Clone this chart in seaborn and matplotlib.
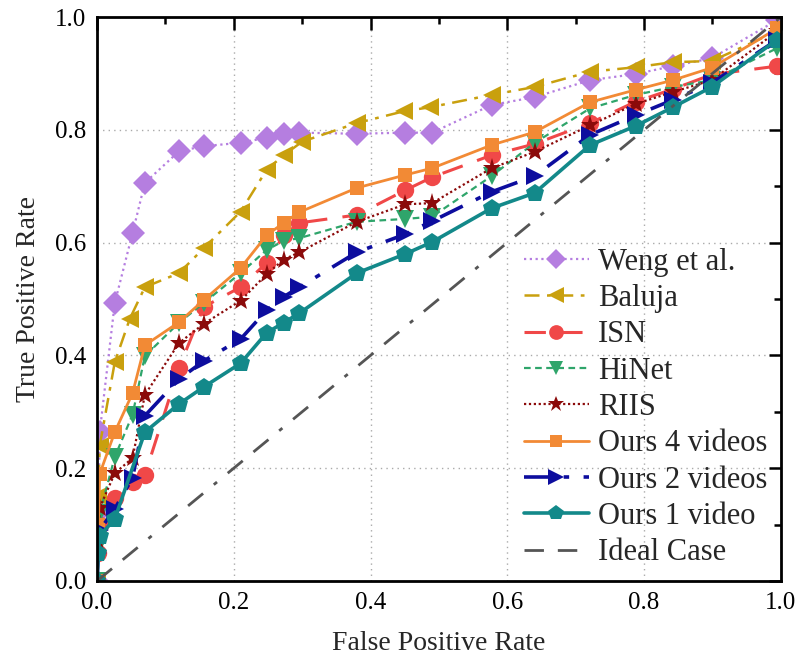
import matplotlib
matplotlib.use("Agg")
import matplotlib.pyplot as plt
from matplotlib.ticker import MultipleLocator, FixedLocator, FixedFormatter
import seaborn as sns
import pandas as pd

# ---------------- data ----------------
fpr_common = [0.026, 0.052, 0.070, 0.120, 0.156, 0.210, 0.248, 0.273, 0.296,
              0.380, 0.451, 0.490, 0.577, 0.640, 0.721, 0.788, 0.842, 0.899, 0.995]

weng_x = [0.0, 0.002, 0.004] + fpr_common
weng_y = [0.0, 0.12, 0.264, 0.493, 0.617, 0.706, 0.762, 0.771, 0.777, 0.786, 0.792, 0.795,
          0.793, 0.795, 0.795, 0.844, 0.858, 0.888, 0.899, 0.913, 0.927, 0.995]

baluja_x = [0.0, 0.002, 0.004, 0.026, 0.048, 0.070, 0.120, 0.156, 0.210, 0.248, 0.273, 0.300,
            0.380, 0.449, 0.487, 0.577, 0.640, 0.721, 0.788, 0.842, 0.899, 0.995]
baluja_y = [0.0, 0.15, 0.24, 0.388, 0.465, 0.521, 0.546, 0.590, 0.655, 0.729, 0.755, 0.779,
            0.812, 0.833, 0.840, 0.862, 0.876, 0.903, 0.911, 0.920, 0.922, 0.975]

isn_x = [0.0, 0.002, 0.004] + fpr_common
isn_y = [0.0, 0.05, 0.10, 0.147, 0.176, 0.188, 0.378, 0.486, 0.521, 0.564, 0.613, 0.635,
         0.649, 0.693, 0.716, 0.755, 0.775, 0.812, 0.850, 0.872, 0.898, 0.913]

hinet_x = [0.0, 0.002, 0.004] + fpr_common
hinet_y = [0.0, 0.06, 0.12, 0.220, 0.295, 0.399, 0.458, 0.493, 0.546, 0.587, 0.603, 0.608,
           0.637, 0.642, 0.646, 0.718, 0.777, 0.838, 0.862, 0.876, 0.888, 0.945]

riis_x = [0.0, 0.002, 0.004] + fpr_common
riis_y = [0.0, 0.07, 0.13, 0.191, 0.218, 0.330, 0.422, 0.456, 0.497, 0.544, 0.570, 0.583,
          0.637, 0.668, 0.670, 0.732, 0.761, 0.808, 0.846, 0.867, 0.888, 0.975]

ours4_x = [0.0, 0.002, 0.004] + fpr_common
ours4_y = [0.0, 0.10, 0.19, 0.264, 0.333, 0.418, 0.459, 0.498, 0.555, 0.613, 0.635, 0.654,
           0.697, 0.720, 0.732, 0.773, 0.796, 0.849, 0.871, 0.888, 0.910, 0.980]

ours2_x = [0.0, 0.002, 0.004] + fpr_common
ours2_y = [0.0, 0.05, 0.09, 0.128, 0.183, 0.293, 0.358, 0.390, 0.429, 0.480, 0.504, 0.521,
           0.583, 0.615, 0.638, 0.690, 0.718, 0.791, 0.826, 0.853, 0.883, 0.960]

ours1_x = [0.0, 0.002, 0.004, 0.026, 0.070, 0.120, 0.156, 0.210, 0.248, 0.273, 0.296,
           0.380, 0.451, 0.490, 0.577, 0.640, 0.721, 0.788, 0.842, 0.899, 0.995]
ours1_y = [0.0, 0.05, 0.08, 0.110, 0.264, 0.314, 0.344, 0.386, 0.440, 0.458, 0.475,
           0.546, 0.580, 0.601, 0.661, 0.688, 0.773, 0.807, 0.840, 0.876, 0.960]

ideal_x = [0.0, 1.0]
ideal_y = [0.0, 1.0]

names = ["Weng et al.", "Baluja", "ISN", "HiNet", "RIIS",
         "Ours 4 videos", "Ours 2 videos", "Ours 1 video", "Ideal Case"]
tick_vals = [0.0, 0.2, 0.4, 0.6, 0.8, 1.0]
tick_labels = ["0.0", "0.2", "0.4", "0.6", "0.8", "1.0"]

# ---------------- styling ----------------
sns.set_theme(style="white")
plt.rcParams['font.family'] = ['Liberation Serif', 'DejaVu Serif']

series = [
    (weng_x, weng_y, "#b57ee0", "D", (0, (1, 1.6)), 1.6, 12),
    (baluja_x, baluja_y, "#c9a00e", "<", (0, (6, 3, 1.5, 3)), 1.8, 13),
    (isn_x, isn_y, "#f04848", "o", (0, (7, 5)), 2.2, 12.5),
    (hinet_x, hinet_y, "#2fa56b", "v", (0, (3, 2)), 1.6, 12.5),
    (riis_x, riis_y, "#8b0a0a", "*", (0, (1, 1.2)), 1.6, 14),
    (ours4_x, ours4_y, "#f28a35", "s", "-", 2.0, 10.5),
    (ours2_x, ours2_y, "#0d0d9e", ">", (0, (7, 4, 1.5, 4)), 2.6, 13),
    (ours1_x, ours1_y, "#13898a", "p", "-", 2.6, 13.5),
]

fig, ax = plt.subplots(figsize=(8.05, 6.55), dpi=100)
fig.subplots_adjust(left=0.1205, right=0.970, bottom=0.113, top=0.974)

for (xs, ys, col, mk, ls, lw, ms), nm in zip(series, names[:-1]):
    df = pd.DataFrame({"x": xs, "y": ys})
    sns.lineplot(data=df, x="x", y="y", ax=ax, color=col, marker=mk,
                 linestyle=ls, linewidth=lw, markersize=ms, markeredgewidth=0,
                 estimator=None, sort=False, label=nm)

df_ideal = pd.DataFrame({"x": ideal_x, "y": ideal_y})
sns.lineplot(data=df_ideal, x="x", y="y", ax=ax, color="#555555",
             linestyle=(0, (7, 5, 7, 5, 1.5, 5)), linewidth=2.0,
             estimator=None, sort=False, label=names[-1])

ax.set_xlim(0, 1)
ax.set_ylim(0, 1)
ax.xaxis.set_major_locator(FixedLocator(tick_vals))
ax.xaxis.set_major_formatter(FixedFormatter(tick_labels))
ax.yaxis.set_major_locator(FixedLocator(tick_vals))
ax.yaxis.set_major_formatter(FixedFormatter(tick_labels))
ax.xaxis.set_minor_locator(MultipleLocator(0.1))
ax.yaxis.set_minor_locator(MultipleLocator(0.1))
ax.tick_params(which="both", direction="in", top=True, right=True,
               colors="black", labelsize=18, width=1.8)
ax.tick_params(which="major", length=9, pad=8)
ax.tick_params(which="minor", length=5)
ax.grid(True, which="major", linestyle=(0, (1, 3)), color="#aaaaaa", linewidth=1.0)
for sp in ax.spines.values():
    sp.set_color("black")
    sp.set_linewidth(2.0)

ax.set_xlabel("False Positive Rate", fontsize=20, labelpad=12)
ax.set_ylabel("True Positive Rate", fontsize=20, labelpad=10)

leg = ax.legend(loc="lower right", frameon=False, fontsize=22,
                handlelength=2.1, handletextpad=0.3, labelspacing=0.24,
                borderaxespad=0.25, markerscale=0.85, borderpad=0.2)

fig.savefig("out.png", dpi=100)
